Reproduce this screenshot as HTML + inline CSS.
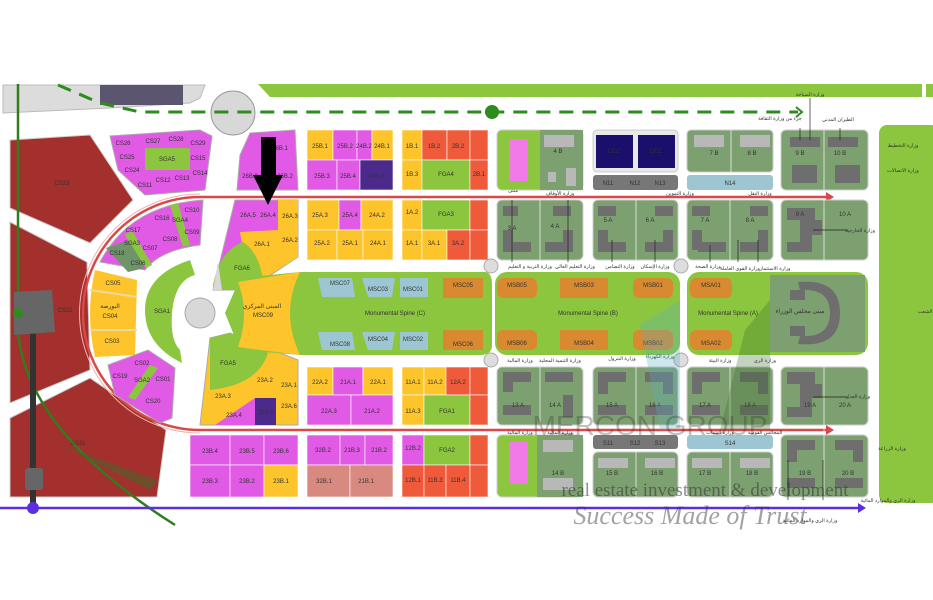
<!DOCTYPE html>
<html><head><meta charset="utf-8"><style>
html,body{margin:0;padding:0;background:#fff;width:933px;height:600px;overflow:hidden}
svg{display:block}
text{font-family:"Liberation Sans","Noto Sans CJK SC",sans-serif;fill:#333;text-anchor:middle}
</style></head><body>
<svg width="933" height="600" viewBox="0 0 933 600" xmlns="http://www.w3.org/2000/svg" font-size="6">
<rect width="933" height="600" fill="#fff"/>
<path d="M3,85 L205,85 L200,98 L190,103 L110,108 L3,113 Z" fill="#dcdcdc" stroke="#bbb"/>
<rect x="100" y="85" width="83" height="20" fill="#5c5570"/>
<circle cx="233" cy="113" r="22" fill="#d8d8d8" stroke="#999"/>
<path d="M258,84 L922,84 L922,97 L270,97 Z" fill="#8cc63f"/>
<path d="M926,84 L933,84 L933,97 L926,97Z" fill="#8cc63f"/>
<rect x="879" y="125" width="60" height="378" rx="8" fill="#8cc63f"/>
<text x="925" y="313" font-size="5">الشعب</text>
<path d="M58,85 L100,103 L140,112 L798,112" stroke="#2e8b1e" stroke-width="3" stroke-dasharray="14,9" fill="none"/>
<path d="M796,107 L802,112 L796,117" stroke="#2e8b1e" stroke-width="2" fill="none"/>
<circle cx="492" cy="112" r="7" fill="#2e8b1e"/>
<path d="M10,140 L90,135 L133,200 L90,243 L10,208 Z" fill="#a3302c" stroke="#ccc"/>
<text x="62" y="185">CS23</text>
<path d="M10,222 L87,262 L90,370 L10,403 Z" fill="#a3302c" stroke="#ccc"/>
<text x="65" y="312">CS22</text>
<path d="M10,418 L90,378 L166,430 L157,497 L10,497 Z" fill="#a3302c" stroke="#ccc"/>
<text x="78" y="445">CS21</text>
<path d="M18,84 L18,330 Q25,430 175,525" stroke="#2e7d1e" stroke-width="2.5" fill="none"/>
<path d="M60,445 L157,480 L150,490 Z" fill="#3d6b2a" opacity="0.5"/>
<rect x="30" y="320" width="6" height="188" fill="#333"/>
<path d="M14,292 L52,290 L55,332 L14,335 Z" fill="#666"/>
<rect x="25" y="468" width="18" height="22" rx="3" fill="#666"/>
<circle cx="18" cy="313" r="5" fill="#2e8b1e"/>
<line x1="0" y1="508" x2="862" y2="508" stroke="#5b2ee0" stroke-width="2.5"/>
<path d="M858,503 L866,508 L858,513 Z" fill="#5b2ee0"/>
<circle cx="33" cy="508" r="6" fill="#5b2ee0"/>
<path d="M830,197 L200,197 A117,116.5 0 0 0 200,430 L830,430" stroke="#d84a4a" stroke-width="2.5" fill="none"/>
<path d="M200,194 A120,119 0 0 0 200,433" stroke="#f4b0b0" stroke-width="1" fill="none"/>
<path d="M826,192 L834,197 L826,202Z M826,425 L834,430 L826,435Z" fill="#d84a4a"/>
<path d="M110,136 L200,130 L212,136 L205,190 L145,195 L118,170 Z" fill="#e05ae6" stroke="#aaa"/>
<rect x="145" y="148" width="45" height="22" fill="#8cc63f"/>
<text x="167" y="161">SGA5</text>
<text x="123" y="145">CS26</text><text x="153" y="143">CS27</text><text x="176" y="141">CS28</text><text x="198" y="145">CS29</text>
<text x="127" y="159">CS25</text><text x="198" y="160">CS15</text><text x="132" y="172">CS24</text><text x="200" y="175">CS14</text>
<text x="145" y="187">CS11</text><text x="163" y="182">CS12</text><text x="182" y="180">CS13</text>
<path d="M100,262 Q130,205 203,200 L200,245 Q160,250 145,270 Z" fill="#e05ae6" stroke="#aaa"/>
<path d="M106,248 L130,240 L145,268 L128,272 Z" fill="#6f9468"/>
<path d="M170,205 L178,203 L190,245 L183,247Z M125,235 L132,230 L152,265 L146,268Z" fill="#8cc63f"/>
<text x="192" y="212">CS10</text><text x="162" y="220">CS16</text><text x="180" y="222">SGA4</text><text x="133" y="232">CS17</text><text x="170" y="241">CS08</text><text x="192" y="234">CS09</text><text x="150" y="250">CS07</text><text x="117" y="255">CS18</text><text x="138" y="265">CS06</text><text x="132" y="245">SGA3</text>
<path d="M95,270 L137,280 L135,355 L95,357 Q85,313 95,270Z" fill="#fdc52b"/>
<line x1="90" y1="290" x2="137" y2="297" stroke="#eed9a0" stroke-width="2"/>
<line x1="90" y1="330" x2="137" y2="330" stroke="#eed9a0" stroke-width="2"/>
<text x="113" y="285">CS05</text><text x="110" y="308">البورصة</text><text x="110" y="318">CS04</text><text x="112" y="343">CS03</text>
<path d="M190,260 Q145,275 145,310 Q145,345 182,363 L180,350 Q170,340 172,313 Q175,280 195,275 Z" fill="#8cc63f"/>
<text x="162" y="313">SGA1</text>
<circle cx="200" cy="313" r="15" fill="#d8d8d8" stroke="#aaa"/>
<path d="M108,365 L148,350 L175,368 L172,418 L160,423 L115,395 Z" fill="#e05ae6" stroke="#aaa"/>
<path d="M150,365 L158,368 L135,400 L128,397Z" fill="#8cc63f"/>
<text x="142" y="365">CS02</text><text x="120" y="378">CS19</text><text x="142" y="382">SGA2</text><text x="163" y="381">CS01</text><text x="153" y="403">CS20</text>
<path d="M250,133 L295,130 L298,190 L237,190 L240,155 Z" fill="#e05ae6" stroke="#aaa"/>
<text x="280" y="150">26B.1</text><text x="250" y="178">26B.3</text><text x="285" y="178">26B.2</text>
<path d="M235,200 L298,200 L298,257 L248,290 L213,290 Z" fill="#e05ae6" stroke="#aaa"/>
<path d="M240,232 L278,230 L278,200 L298,200 L298,257 L265,278 L245,260Z" fill="#fdc52b"/>
<path d="M213,285 Q220,250 243,242 Q258,252 262,275 L248,290 L213,290Z" fill="#8cc63f"/>
<path d="M213,290 L218,262 L222,290Z" fill="#d8d8d8"/>
<text x="248" y="217">26A.5</text><text x="268" y="217">26A.4</text><text x="290" y="218">26A.3</text><text x="262" y="246">26A.1</text><text x="290" y="242">26A.2</text><text x="242" y="270">FGA6</text>
<path d="M210,338 L230,333 L298,360 L298,425 L200,425 Z" fill="#fdc52b" stroke="#aaa"/>
<path d="M210,338 L230,333 L268,353 Q258,385 210,390 Z" fill="#8cc63f"/>
<path d="M215,425 L255,398 L255,425Z" fill="#e05ae6"/>
<rect x="255" y="398" width="21" height="27" fill="#4c2a8c"/>
<text x="228" y="365">FGA5</text><text x="265" y="382">23A.2</text><text x="289" y="387">23A.1</text><text x="223" y="398">23A.3</text><text x="234" y="417">23A.4</text><text x="266" y="414" fill="#ddd">23A.5</text><text x="289" y="408">23A.6</text>
<path d="M225,313 L240,278 L300,272 L485,272 Q492,272 492,285 L492,345 Q492,355 480,355 L300,355 L240,350 Z" fill="#8cc63f"/>
<path d="M238,282 L300,272 Q280,313 300,355 L238,347 Q250,313 238,282Z" fill="#fdc52b"/>
<text x="262" y="308">المبنى المركزي</text><text x="263" y="317">MSC09</text>
<path d="M318,278 L352,278 L355,297 L322,297Z M362,278 L395,278 L392,297 L368,297Z M400,278 L428,278 L428,297 L400,297Z" fill="#9cc7d2"/>
<path d="M318,332 L352,332 L355,350 L322,350Z M362,332 L395,332 L392,350 L368,350Z M400,332 L428,332 L428,350 L400,350Z" fill="#9cc7d2"/>
<rect x="443" y="278" width="40" height="20" fill="#d98a30"/><rect x="443" y="330" width="40" height="20" fill="#d98a30"/>
<text x="340" y="285">MSC07</text><text x="378" y="291">MSC03</text><text x="413" y="291">MSC01</text><text x="463" y="287">MSC05</text>
<text x="340" y="346">MSC08</text><text x="378" y="341">MSC04</text><text x="413" y="341">MSC02</text><text x="463" y="346">MSC06</text>
<text x="395" y="315">Monumental Spine (C)</text>
<g stroke="#fff" stroke-width="0.6">
<rect x="307" y="130" width="26" height="30" fill="#fdc52b"/><rect x="333" y="130" width="24" height="30" fill="#e05ae6"/><rect x="357" y="130" width="15" height="30" fill="#e05ae6"/><rect x="372" y="130" width="21" height="30" fill="#fdc52b"/>
<rect x="307" y="160" width="30" height="30" fill="#e05ae6"/><rect x="337" y="160" width="23" height="30" fill="#e05ae6"/><rect x="360" y="160" width="33" height="30" fill="#4c2a8c"/>
<rect x="307" y="200" width="32" height="30" fill="#fdc52b"/><rect x="339" y="200" width="22" height="30" fill="#e05ae6"/><rect x="361" y="200" width="32" height="30" fill="#fdc52b"/>
<rect x="307" y="230" width="30" height="30" fill="#fdc52b"/><rect x="337" y="230" width="26" height="30" fill="#fdc52b"/><rect x="363" y="230" width="30" height="30" fill="#fdc52b"/>
<rect x="307" y="367" width="26" height="28" fill="#fdc52b"/><rect x="333" y="367" width="30" height="28" fill="#e05ae6"/><rect x="363" y="367" width="30" height="28" fill="#fdc52b"/>
<rect x="307" y="395" width="44" height="30" fill="#e05ae6"/><rect x="351" y="395" width="42" height="30" fill="#e05ae6"/>
<rect x="402" y="130" width="20" height="30" fill="#fdc52b"/><rect x="422" y="130" width="25" height="30" fill="#ef5a3a"/><rect x="447" y="130" width="23" height="30" fill="#ef5a3a"/><rect x="470" y="130" width="18" height="30" fill="#ef5a3a"/>
<rect x="402" y="160" width="20" height="30" fill="#fdc52b"/><rect x="422" y="160" width="48" height="30" fill="#8cc63f"/><rect x="470" y="160" width="18" height="30" fill="#ef5a3a"/>
<rect x="402" y="200" width="20" height="30" fill="#fdc52b"/><rect x="422" y="200" width="48" height="30" fill="#8cc63f"/><rect x="470" y="200" width="18" height="30" fill="#ef5a3a"/>
<rect x="402" y="230" width="20" height="30" fill="#fdc52b"/><rect x="422" y="230" width="25" height="30" fill="#fdc52b"/><rect x="447" y="230" width="23" height="30" fill="#ef5a3a"/><rect x="470" y="230" width="18" height="30" fill="#ef5a3a"/>
<rect x="402" y="367" width="22" height="28" fill="#fdc52b"/><rect x="424" y="367" width="22" height="28" fill="#fdc52b"/><rect x="446" y="367" width="24" height="28" fill="#ef5a3a"/><rect x="470" y="367" width="18" height="28" fill="#ef5a3a"/>
<rect x="402" y="395" width="22" height="30" fill="#fdc52b"/><rect x="424" y="395" width="46" height="30" fill="#8cc63f"/><rect x="470" y="395" width="18" height="30" fill="#ef5a3a"/>
<rect x="190" y="435" width="40" height="30" fill="#e05ae6"/><rect x="230" y="435" width="34" height="30" fill="#e05ae6"/><rect x="264" y="435" width="34" height="30" fill="#e05ae6"/>
<rect x="190" y="465" width="40" height="32" fill="#e05ae6"/><rect x="230" y="465" width="34" height="32" fill="#e05ae6"/><rect x="264" y="465" width="34" height="32" fill="#fdc52b"/>
<rect x="307" y="435" width="33" height="30" fill="#e05ae6"/><rect x="340" y="435" width="25" height="30" fill="#e05ae6"/><rect x="365" y="435" width="28" height="30" fill="#e05ae6"/>
<rect x="307" y="465" width="43" height="32" fill="#d98a80"/><rect x="350" y="465" width="43" height="32" fill="#d98a80"/>
<rect x="402" y="435" width="22" height="30" fill="#e05ae6"/><rect x="424" y="435" width="46" height="30" fill="#8cc63f"/><rect x="470" y="435" width="18" height="30" fill="#ef5a3a"/>
<rect x="402" y="465" width="22" height="32" fill="#ef5a3a"/><rect x="424" y="465" width="22" height="32" fill="#ef5a3a"/><rect x="446" y="465" width="24" height="32" fill="#ef5a3a"/><rect x="470" y="465" width="18" height="32" fill="#ef5a3a"/>
</g>
<g>
<text x="320" y="148">25B.1</text><text x="345" y="148">25B.2</text><text x="364" y="148">24B.2</text><text x="382" y="148">24B.1</text>
<text x="322" y="178">25B.3</text><text x="348" y="178">25B.4</text><text x="376" y="178" fill="#ddd">24B.3</text>
<text x="320" y="217">25A.3</text><text x="350" y="217">25A.4</text><text x="377" y="217">24A.2</text>
<text x="322" y="245">25A.2</text><text x="350" y="245">25A.1</text><text x="378" y="245">24A.1</text>
<text x="320" y="384">22A.2</text><text x="348" y="384">21A.1</text><text x="378" y="384">22A.1</text><text x="329" y="413">22A.3</text><text x="372" y="413">21A.2</text>
<text x="412" y="148">1B.1</text><text x="434" y="148">1B.2</text><text x="458" y="148">2B.2</text><text x="412" y="176">1B.3</text><text x="446" y="176">FGA4</text><text x="479" y="176">2B.1</text>
<text x="412" y="214">1A.2</text><text x="446" y="216">FGA3</text><text x="412" y="245">1A.1</text><text x="434" y="245">3A.1</text><text x="458" y="245">3A.2</text>
<text x="413" y="384">11A.1</text><text x="435" y="384">11A.2</text><text x="458" y="384">12A.2</text><text x="413" y="413">11A.3</text><text x="447" y="413">FGA1</text>
<text x="210" y="453">23B.4</text><text x="247" y="453">23B.5</text><text x="281" y="453">23B.6</text><text x="210" y="483">23B.3</text><text x="247" y="483">23B.2</text><text x="281" y="483">23B.1</text>
<text x="323" y="452">32B.2</text><text x="352" y="452">21B.3</text><text x="379" y="452">21B.2</text><text x="324" y="483">32B.1</text><text x="366" y="483">21B.1</text>
<text x="413" y="450">12B.2</text><text x="447" y="452">FGA2</text><text x="413" y="482">12B.1</text><text x="435" y="482">11B.3</text><text x="458" y="482">11B.4</text>
</g>
<path d="M261,137 L276,137 L276,175 L283,175 L268,205 L253,175 L261,175 Z" fill="#000"/>
<g>
<rect x="497" y="130" width="86" height="60" rx="5" fill="#8cc63f" stroke="#ccc"/>
<rect x="540" y="130" width="43" height="60" fill="#7da070"/>
<rect x="509" y="139" width="19" height="42" fill="#f27ae8"/>
<rect x="544" y="135" width="30" height="12" fill="#b8b8b8"/><rect x="566" y="168" width="10" height="18" fill="#b8b8b8"/><rect x="548" y="172" width="8" height="10" fill="#b8b8b8"/>
<text x="558" y="153">4 B</text>
<rect x="593" y="130" width="85" height="42" rx="4" fill="#e8e8e8" stroke="#ccc"/>
<rect x="596" y="135" width="37" height="33" fill="#1a0f6b"/><rect x="638" y="135" width="37" height="33" fill="#1a0f6b"/>
<text x="614" y="153" fill="#ccc">CCC</text><text x="656" y="153" fill="#ccc">CCC</text>
<rect x="593" y="175" width="85" height="15" rx="3" fill="#777"/>
<text x="608" y="185">N11</text><text x="635" y="185">N12</text><text x="660" y="185">N13</text>
<rect x="687" y="130" width="86" height="42" rx="4" fill="#7da070" stroke="#ccc"/>
<rect x="694" y="135" width="30" height="12" fill="#b8b8b8"/><rect x="740" y="135" width="30" height="12" fill="#b8b8b8"/>
<text x="714" y="155">7 B</text><text x="752" y="155">8 B</text>
<rect x="687" y="175" width="86" height="15" rx="3" fill="#9cc7d2"/><text x="730" y="185">N14</text>
<rect x="781" y="130" width="87" height="60" rx="5" fill="#7da070" stroke="#ccc"/>
<rect x="790" y="137" width="30" height="10" fill="#6e6e6e"/><rect x="828" y="137" width="30" height="10" fill="#6e6e6e"/><rect x="792" y="165" width="25" height="18" fill="#6e6e6e"/><rect x="835" y="165" width="25" height="18" fill="#6e6e6e"/>
<text x="800" y="155">9 B</text><text x="840" y="155">10 B</text>
</g>
<g fill="#7da070" stroke="#ccc">
<rect x="497" y="200" width="86" height="60" rx="5"/><rect x="593" y="200" width="85" height="60" rx="5"/><rect x="687" y="200" width="86" height="60" rx="5"/><rect x="781" y="200" width="87" height="60" rx="5"/>
<rect x="497" y="367" width="86" height="58" rx="5"/><rect x="593" y="367" width="85" height="58" rx="5"/><rect x="687" y="367" width="86" height="58" rx="5"/><rect x="781" y="367" width="87" height="58" rx="5"/>
<rect x="593" y="452" width="85" height="45" rx="5"/><rect x="687" y="452" width="86" height="45" rx="5"/><rect x="781" y="435" width="87" height="62" rx="5"/>
</g>
<rect x="497" y="435" width="86" height="62" rx="5" fill="#8cc63f" stroke="#ccc"/>
<rect x="537" y="435" width="46" height="62" fill="#7da070"/>
<rect x="509" y="442" width="19" height="42" fill="#f27ae8"/>
<rect x="593" y="435" width="85" height="14" rx="3" fill="#777"/><rect x="687" y="435" width="86" height="14" rx="3" fill="#9cc7d2"/>
<text x="730" y="445">S14</text><text x="608" y="445">S11</text><text x="635" y="445">S12</text><text x="660" y="445">S13</text>
<g fill="#6e6e6e">
<rect x="503" y="206" width="15" height="10"/><rect x="503" y="230" width="10" height="20"/><rect x="503" y="242" width="28" height="10"/><rect x="553" y="206" width="18" height="10"/><rect x="563" y="230" width="10" height="22"/><rect x="545" y="242" width="28" height="10"/>
<rect x="598" y="206" width="18" height="10"/><rect x="598" y="230" width="10" height="20"/><rect x="598" y="242" width="28" height="10"/><rect x="655" y="206" width="18" height="10"/><rect x="663" y="230" width="10" height="22"/><rect x="645" y="242" width="28" height="10"/>
<rect x="692" y="206" width="18" height="10"/><rect x="692" y="230" width="10" height="20"/><rect x="698" y="242" width="28" height="10"/><rect x="750" y="206" width="18" height="10"/><rect x="758" y="230" width="10" height="22"/><rect x="740" y="242" width="28" height="10"/>
<path d="M787,208 L815,208 L815,220 L822,220 L822,235 L812,235 L812,252 L787,252 L787,242 L800,242 L800,220 L787,220Z"/>
<rect x="503" y="372" width="28" height="10"/><rect x="503" y="372" width="10" height="20"/><rect x="503" y="405" width="28" height="10"/><rect x="545" y="372" width="28" height="10"/><rect x="563" y="395" width="10" height="22"/>
<rect x="598" y="372" width="28" height="10"/><rect x="598" y="372" width="10" height="22"/><rect x="598" y="405" width="28" height="10"/><rect x="645" y="372" width="28" height="10"/><rect x="663" y="372" width="10" height="22"/><rect x="645" y="405" width="28" height="10"/>
<rect x="692" y="372" width="28" height="10"/><rect x="692" y="372" width="10" height="22"/><rect x="692" y="405" width="28" height="10"/><rect x="740" y="372" width="28" height="10"/><rect x="758" y="372" width="10" height="22"/><rect x="740" y="405" width="28" height="10"/>
<path d="M787,372 L815,372 L815,384 L822,384 L822,398 L812,398 L812,417 L787,417 L787,407 L800,407 L800,384 L787,384Z"/>
<rect x="787" y="440" width="28" height="10"/><rect x="787" y="440" width="10" height="22"/><rect x="787" y="478" width="28" height="10"/><rect x="835" y="440" width="28" height="10"/><rect x="853" y="440" width="10" height="22"/><rect x="835" y="478" width="28" height="10"/>
</g>
<g fill="#b8b8b8"><rect x="543" y="440" width="30" height="12"/><rect x="543" y="478" width="30" height="12"/><rect x="598" y="458" width="30" height="10"/><rect x="645" y="458" width="30" height="10"/><rect x="692" y="458" width="30" height="10"/><rect x="740" y="458" width="30" height="10"/></g>
<g stroke="#eee" stroke-width="0.8"><line x1="540" y1="200" x2="540" y2="260"/><line x1="636" y1="200" x2="636" y2="260"/><line x1="730" y1="200" x2="730" y2="260"/><line x1="824" y1="200" x2="824" y2="260"/><line x1="540" y1="367" x2="540" y2="425"/><line x1="636" y1="367" x2="636" y2="425"/><line x1="730" y1="367" x2="730" y2="425"/><line x1="824" y1="367" x2="824" y2="497"/><line x1="636" y1="452" x2="636" y2="497"/><line x1="730" y1="452" x2="730" y2="497"/><line x1="731" y1="130" x2="731" y2="172"/><line x1="824" y1="130" x2="824" y2="190"/></g>
<text x="512" y="230">3 A</text><text x="555" y="228">4 A</text><text x="608" y="222">5 A</text><text x="650" y="222">6 A</text><text x="705" y="222">7 A</text><text x="750" y="222">8 A</text><text x="800" y="216">9 A</text><text x="845" y="216">10 A</text>
<text x="518" y="407">13 A</text><text x="555" y="407">14 A</text><text x="612" y="407">15 A</text><text x="655" y="407">16 A</text><text x="705" y="407">17 A</text><text x="750" y="407">18 A</text><text x="810" y="407">19 A</text><text x="845" y="407">20 A</text>
<text x="558" y="475">14 B</text><text x="612" y="475">15 B</text><text x="657" y="475">16 B</text><text x="705" y="475">17 B</text><text x="752" y="475">18 B</text><text x="805" y="475">19 B</text><text x="848" y="475">20 B</text>
<rect x="495" y="272" width="185" height="83" rx="12" fill="#8cc63f"/>
<rect x="687" y="272" width="181" height="83" rx="12" fill="#8cc63f"/>
<rect x="770" y="275" width="95" height="77" fill="#7da070"/>
<path d="M798,282 Q840,278 840,313 Q840,348 798,344 L800,336 Q830,338 830,313 Q830,288 800,290Z" fill="#6e6e6e"/>
<path d="M790,290 L805,290 L805,300 L790,300Z M790,326 L805,326 L805,336 L790,336Z" fill="#6e6e6e"/>
<text x="800" y="313">مبنى مجلس الوزراء</text>
<g fill="#d98a30"><rect x="497" y="278" width="40" height="20" rx="6"/><rect x="560" y="278" width="48" height="20"/><rect x="633" y="278" width="40" height="20" rx="6"/><rect x="690" y="278" width="42" height="20" rx="6"/>
<rect x="497" y="330" width="40" height="20" rx="6"/><rect x="560" y="330" width="48" height="20"/><rect x="633" y="330" width="40" height="20" rx="6"/><rect x="690" y="330" width="42" height="20" rx="6"/></g>
<text x="517" y="287">MSB05</text><text x="584" y="287">MSB03</text><text x="653" y="287">MSB01</text><text x="711" y="287">MSA01</text>
<text x="517" y="345">MSB06</text><text x="584" y="345">MSB04</text><text x="653" y="345">MSB02</text><text x="711" y="345">MSA02</text>
<text x="588" y="315">Monumental Spine (B)</text><text x="728" y="315">Monumental Spine (A)</text>
<circle cx="491" cy="266" r="7" fill="#ddd" stroke="#aaa"/><circle cx="681" cy="266" r="7" fill="#ddd" stroke="#aaa"/><circle cx="491" cy="360" r="7" fill="#ddd" stroke="#aaa"/><circle cx="681" cy="360" r="7" fill="#ddd" stroke="#aaa"/>
<g stroke="#222" stroke-width="0.7"><line x1="512" y1="200" x2="512" y2="262"/><line x1="568" y1="200" x2="568" y2="262"/><line x1="612" y1="240" x2="612" y2="262"/><line x1="655" y1="240" x2="655" y2="262"/><line x1="710" y1="245" x2="710" y2="262"/><line x1="738" y1="240" x2="738" y2="262"/><line x1="758" y1="240" x2="758" y2="262"/><line x1="813" y1="230" x2="848" y2="230"/><line x1="810" y1="98" x2="810" y2="140"/><line x1="800" y1="128" x2="800" y2="140"/><line x1="840" y1="128" x2="840" y2="140"/><line x1="813" y1="397" x2="848" y2="397"/><line x1="823" y1="460" x2="823" y2="500"/><line x1="788" y1="460" x2="788" y2="500"/></g>
<g font-size="5">
<text x="530" y="268">وزارة التربية و التعليم</text><text x="575" y="268">وزارة التعليم العالي</text><text x="620" y="268">وزارة التضامن</text><text x="655" y="268">وزارة الإسكان</text><text x="708" y="268">وزارة الصحة</text><text x="740" y="270">وزارة القوى العاملة</text><text x="775" y="270">وزارة الاستثمار</text><text x="860" y="232">وزارة الخارجية</text>
<text x="810" y="96">وزارة السياحة</text><text x="780" y="120">جزء من وزارة الثقافة</text><text x="838" y="121">الطيران المدني</text><text x="903" y="147">وزارة التخطيط</text><text x="903" y="172">وزارة الاتصالات</text>
<text x="513" y="192">مبنى</text><text x="560" y="195">وزارة الأوقاف</text><text x="680" y="195">وزارة التموين</text><text x="760" y="195">وزارة النقل</text>
<text x="520" y="362">وزارة المالية</text><text x="560" y="362">وزارة التنمية المحلية</text><text x="622" y="360">وزارة البترول</text><text x="660" y="358">وزارة الكهرباء</text><text x="720" y="362">وزارة البيئة</text><text x="765" y="362">وزارة الري</text><text x="858" y="398">وزارة العدل</text>
<text x="520" y="434">وزارة المالية</text><text x="560" y="434">وزارة المالية</text><text x="720" y="434">وزارة الشباب</text><text x="765" y="434">المجالس القومية</text><text x="892" y="450">وزارة الزراعة</text><text x="888" y="502">وزارة الري والموارد المائية</text><text x="810" y="522">وزارة الري والموارد المائية</text>
</g>
<path d="M640,325 L680,300 L680,430 L660,430 Z" fill="#5aaec0" opacity="0.3"/>
<path d="M720,430 L745,330 L770,300 L770,430Z" fill="#3a6e2a" opacity="0.3"/>
<text x="705" y="496" font-size="19" style="font-family:'Liberation Serif',serif" fill="#888" opacity="0.55">real estate investment &amp; development</text>
<text x="690" y="524" font-size="26" style="font-family:'Liberation Serif',serif;font-style:italic" fill="#bbb" opacity="0.45">Success Made of Trust</text>
<text x="650" y="435" font-size="28" style="font-family:'Liberation Sans',sans-serif" fill="#9cd0dd" opacity="0.3">MERCON GROUP</text>
</svg>
</body></html>
